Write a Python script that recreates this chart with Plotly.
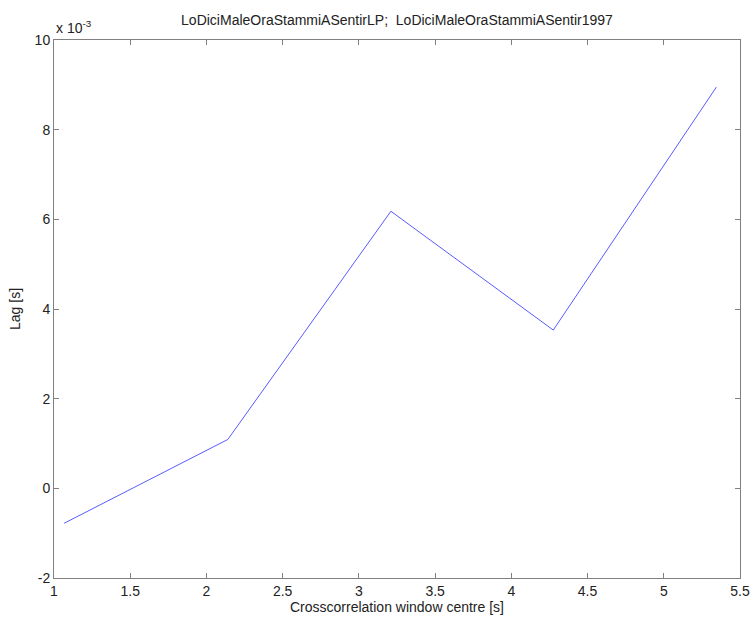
import plotly.graph_objects as go

window_centre = [1.066, 2.14, 3.21, 4.275, 5.345]
lag_s = [-0.78e-3, 1.09e-3, 6.18e-3, 3.53e-3, 8.95e-3]
ytick_vals = [-2e-3, 0, 2e-3, 4e-3, 6e-3, 8e-3, 10e-3]
ytick_text = ["-2", "0", "2", "4", "6", "8", "10"]
xtick_vals = [1, 1.5, 2, 2.5, 3, 3.5, 4, 4.5, 5, 5.5]
xtick_text = ["1", "1.5", "2", "2.5", "3", "3.5", "4", "4.5", "5", "5.5"]

FONT = "Liberation Sans, Arial"
fig = go.Figure(go.Scatter(x=window_centre, y=lag_s, mode="lines",
                           line=dict(color="#5a5aff", width=1)))

axis_common = dict(showline=True, linecolor="#808080", linewidth=1, mirror="ticks",
                   ticks="inside", ticklen=5, tickcolor="#808080", showgrid=False,
                   zeroline=False, automargin=False,
                   tickfont=dict(family=FONT, size=14, color="#222"))

fig.update_layout(
    width=752, height=621,
    margin=dict(l=54, r=12, t=40, b=43),
    paper_bgcolor="white", plot_bgcolor="white",
    showlegend=False,
    font=dict(family=FONT, size=14, color="#222"),
    title=dict(text="LoDiciMaleOraStammiASentirLP;&nbsp; LoDiciMaleOraStammiASentir1997",
               x=0.5 * (54 + 740) / 752, xanchor="center", y=0.967, yanchor="middle",
               font=dict(family=FONT, size=14, color="#222")),
    xaxis=dict(range=[1, 5.5], tickvals=xtick_vals, ticktext=xtick_text,
               title=dict(text="Crosscorrelation window centre [s]", standoff=0,
                          font=dict(family=FONT, size=14, color="#222")), **axis_common),
    yaxis=dict(range=[-2e-3, 10e-3], tickvals=ytick_vals, ticktext=ytick_text,
               title=dict(text="Lag [s]", standoff=10,
                          font=dict(family=FONT, size=14, color="#222")), **axis_common),
    annotations=[dict(text="x 10<sup>-3</sup>", xref="paper", yref="paper", x=0.0, y=1.0,
                      xanchor="left", yanchor="bottom", showarrow=False, yshift=2,
                      font=dict(family=FONT, size=14, color="#222"))],
)

fig.write_html("out.html", config={"displayModeBar": False},
               post_script="document.body.style.margin='0';document.body.style.padding='0';document.body.style.overflow='hidden';")
